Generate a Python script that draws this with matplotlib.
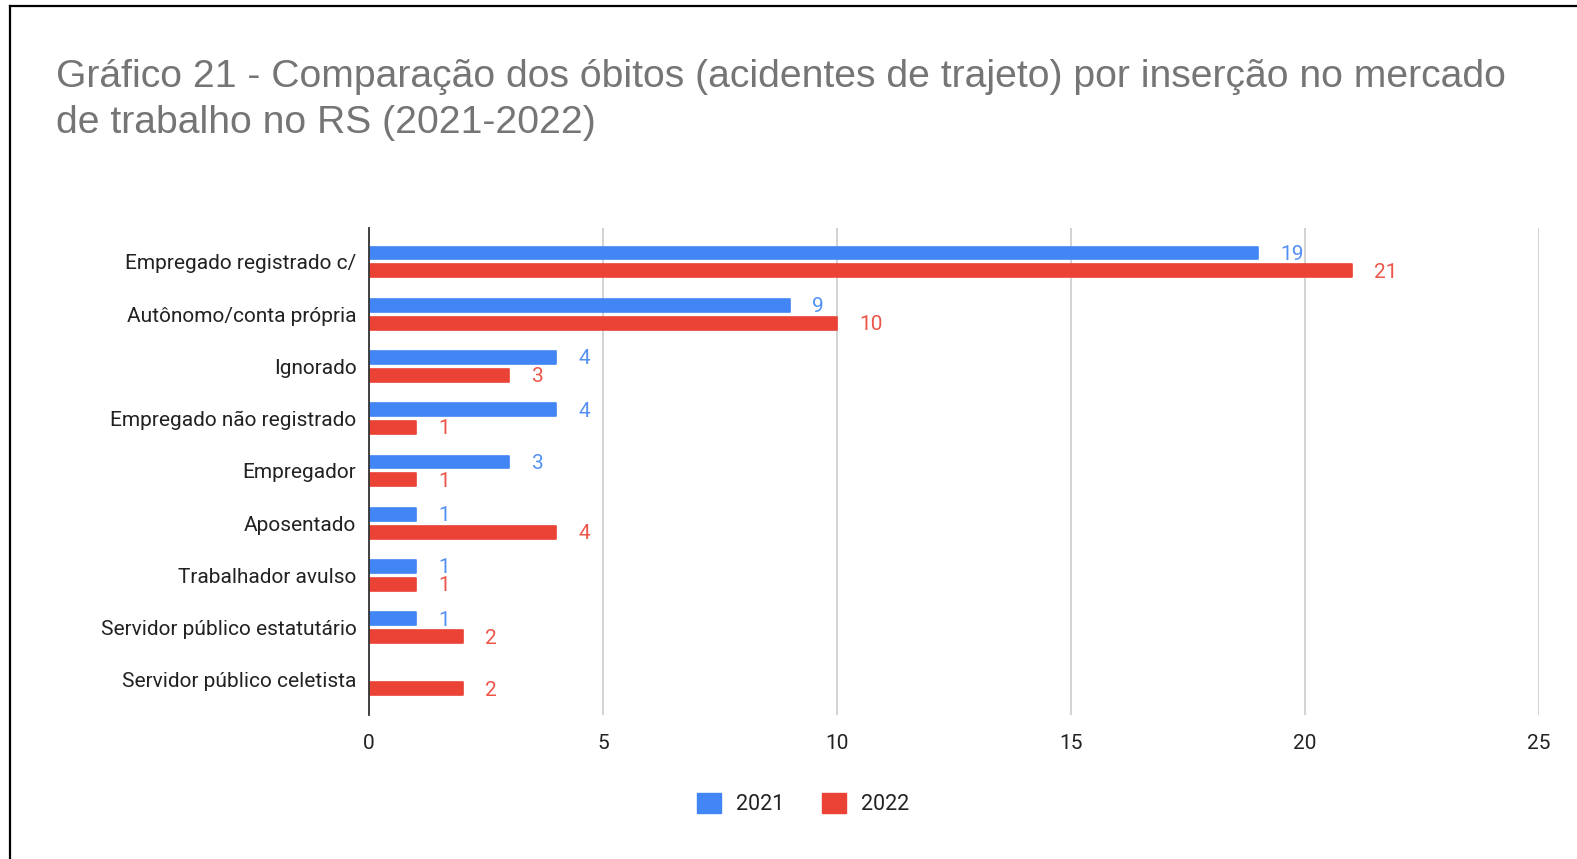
import matplotlib
matplotlib.use("Agg")
import matplotlib.pyplot as plt
from matplotlib.lines import Line2D
from matplotlib.patches import Patch

# data
categorias = ["Empregado registrado c/", "Autônomo/conta própria", "Ignorado",
              "Empregado não registrado", "Empregador", "Aposentado",
              "Trabalhador avulso", "Servidor público estatutário",
              "Servidor público celetista"]
obitos_2021 = [19, 9, 4, 4, 3, 1, 1, 1, 0]
obitos_2022 = [21, 10, 3, 1, 1, 4, 1, 2, 2]
anos = ["2021", "2022"]
xticks = [0, 5, 10, 15, 20, 25]

azul = "#4285F4"
vermelho = "#EA4335"

plt.rcParams['font.family'] = ['Roboto', 'DejaVu Sans']

W, H = 1577, 859
fig = plt.figure(figsize=(W / 100, H / 100), dpi=100)
ax = fig.add_axes([369 / W, 1 - 715 / H, (1539 - 369) / W, (715 - 228) / H])

y = list(range(len(categorias)))
h = 0.245
off = 0.17
for vals, cor, d in [(obitos_2021, azul, -off), (obitos_2022, vermelho, off)]:
    pos = [v + d for v in y]
    ax.barh(pos, vals, height=h, color=cor, edgecolor=cor, linewidth=1.2,
            joinstyle='round', zorder=3)
    for p, v in zip(pos, vals):
        if v == 0:
            continue
        ax.annotate(str(v), (v, p), xytext=(16, -1), textcoords='offset points',
                    ha='left', va='center', fontsize=15, color=cor, alpha=0.9)

ax.set_xlim(0, 25)
ax.set_ylim(len(categorias) - 1 + 0.67, -0.65)
ax.set_xticks(xticks)
ax.set_xticklabels([str(t) for t in xticks], fontsize=15, color="#222222")
ax.set_yticks(y)
ax.set_yticklabels(categorias, fontsize=15, color="#222222")
ax.tick_params(axis='both', length=0)
ax.tick_params(axis='x', pad=13.5)
ax.tick_params(axis='y', pad=9)
ax.grid(axis='x', color="#cccccc", linewidth=1.2, zorder=0)
for s in ["top", "right", "bottom"]:
    ax.spines[s].set_visible(False)
ax.spines["left"].set_color("#333333")
ax.spines["left"].set_linewidth(1.3)
ax.spines["left"].set_zorder(4)

fig.text(56 / W, 1 - 59 / H, "Gráfico 21 - Comparação dos óbitos (acidentes de trajeto) por inserção no mercado\n"
         "de trabalho no RS (2021-2022)", ha='left', va='top', fontsize=28.2,
         color="#757575", family=['Liberation Sans', 'DejaVu Sans'], linespacing=1.35)

handles = [Patch(facecolor=azul, edgecolor=azul), Patch(facecolor=vermelho, edgecolor=vermelho)]
fig.legend(handles, anos, loc='center', bbox_to_anchor=(803 / W, 1 - 804 / H), ncol=2,
           frameon=False, fontsize=15.5, handlelength=1.1, handleheight=1.1,
           columnspacing=1.75, handletextpad=0.7, labelcolor="#222222")

# moldura (linha de cima e da esquerda)
fig.add_artist(Line2D([10 / W, 10 / W], [0, 1 - 6 / H], color="black", linewidth=1.6))
fig.add_artist(Line2D([10 / W, 1], [1 - 6 / H, 1 - 6 / H], color="black", linewidth=1.6))

fig.savefig("out.png", dpi=100)
